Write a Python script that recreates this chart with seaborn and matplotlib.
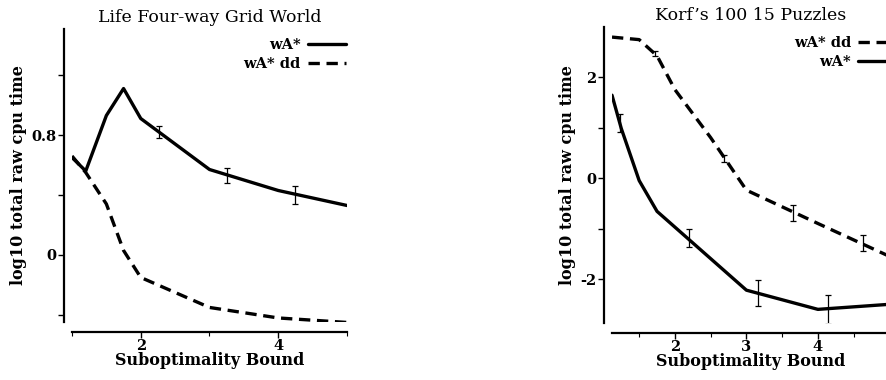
import matplotlib
matplotlib.use("Agg")
import matplotlib.pyplot as plt
import seaborn as sns
import pandas as pd
from matplotlib.lines import Line2D

# ---- Left panel: Life Four-way Grid World ----
grid_bound_wa = [1.0, 1.2, 1.5, 1.75, 2.0, 3.0, 4.0, 5.0]
grid_time_wa = [0.65, 0.56, 0.93, 1.11, 0.91, 0.57, 0.43, 0.33]
grid_bound_dd = [1.0, 1.2, 1.5, 1.75, 2.0, 3.0, 4.0, 5.0]
grid_time_dd = [0.66, 0.55, 0.34, 0.03, -0.15, -0.35, -0.42, -0.45]
grid_err_x = [2.27, 3.26, 4.25]
grid_err_y = [0.82, 0.53, 0.40]
grid_err_e = [0.04, 0.05, 0.06]

# ---- Right panel: Korf's 100 15 Puzzles ----
korf_bound_dd = [1.12, 1.5, 1.75, 2.0, 2.5, 3.0, 4.0, 5.0]
korf_time_dd = [2.79, 2.74, 2.42, 1.75, 0.8, -0.24, -0.9, -1.55]
korf_bound_wa = [1.12, 1.25, 1.5, 1.75, 3.0, 4.0, 5.0]
korf_time_wa = [1.64, 0.98, -0.05, -0.66, -2.22, -2.6, -2.5]
korf_err_dd_x = [1.72, 2.69, 3.65, 4.63]
korf_err_dd_y = [2.47, 0.38, -0.69, -1.29]
korf_err_dd_e = [0.05, 0.07, 0.16, 0.16]
korf_err_wa_x = [1.23, 2.2, 3.16, 4.14]
korf_err_wa_y = [1.09, -1.19, -2.28, -2.6]
korf_err_wa_e = [0.17, 0.18, 0.26, 0.29]

sns.set_theme(style="ticks")
plt.rcParams["font.family"] = ["DejaVu Serif"]
for k in ("axes.edgecolor", "xtick.color", "ytick.color", "text.color",
          "axes.labelcolor", "axes.titlecolor"):
    plt.rcParams[k] = "black"

fig = plt.figure(figsize=(8.87, 3.80), dpi=100)
axL = fig.add_axes([72/887, 58/380, 275/887, 293/380])
axR = fig.add_axes([612/887, 57/380, 277.4/887, 296/380])

LW = 2.4
DASH = (3.4, 2.0)
EB = dict(fmt="none", ecolor="black", elinewidth=0.9, capsize=2.5, capthick=0.9)
LEG = dict(loc="upper right", frameon=False, markerfirst=False, handlelength=2.6,
           handletextpad=0.5, labelspacing=0.35, borderaxespad=0.0, borderpad=0.1,
           prop={"weight": "bold", "size": 10.5})


def line(ax, xs, ys, dashed):
    sns.lineplot(data=pd.DataFrame({"bound": xs, "time": ys}), x="bound", y="time",
                 ax=ax, color="black", lw=LW, estimator=None, sort=False)
    if dashed:
        ax.lines[-1].set_dashes(DASH)


# left
line(axL, grid_bound_wa, grid_time_wa, False)
line(axL, grid_bound_dd, grid_time_dd, True)
axL.errorbar(grid_err_x, grid_err_y, yerr=grid_err_e, **EB)
axL.set_xlim(1.0, 5.0)
axL.set_ylim(-0.447, 1.507)
axL.set_xticks([2, 4])
axL.set_xticklabels(["2", "4"])
axL.set_xticks([1, 3, 5], minor=True)
axL.set_yticks([-0.4, 0, 0.4, 0.8, 1.2])
axL.set_yticklabels(["", "0", "", "0.8", ""])
axL.set_title("Life Four-way Grid World", fontsize=12.5, pad=5)
handlesL = [Line2D([], [], color="black", lw=LW),
            Line2D([], [], color="black", lw=LW, dashes=DASH)]
axL.legend(handlesL, ["wA*", "wA* dd"], bbox_to_anchor=(1.0, 0.975), **LEG)

# right
line(axR, korf_bound_dd, korf_time_dd, True)
line(axR, korf_bound_wa, korf_time_wa, False)
axR.errorbar(korf_err_dd_x, korf_err_dd_y, yerr=korf_err_dd_e, **EB)
axR.errorbar(korf_err_wa_x, korf_err_wa_y, yerr=korf_err_wa_e, **EB)
axR.set_xlim(1.12, 5.0)
axR.set_ylim(-2.87, 2.99)
axR.set_xticks([2, 3, 4, 5])
axR.set_xticklabels(["2", "3", "4", ""])
axR.set_xticks([1.5, 2.5, 3.5, 4.5], minor=True)
axR.set_yticks([-2, -1, 0, 1, 2])
axR.set_yticklabels(["-2", "", "0", "", "2"])
axR.set_title("Korf\u2019s 100 15 Puzzles", fontsize=12.5, pad=5)
handlesR = [Line2D([], [], color="black", lw=LW, dashes=DASH),
            Line2D([], [], color="black", lw=LW)]
axR.legend(handlesR, ["wA* dd", "wA*"], bbox_to_anchor=(1.03, 0.975), **LEG)

for ax in (axL, axR):
    ax.set_xlabel("Suboptimality Bound", fontsize=11.5, fontweight="bold", labelpad=-1)
    ax.set_ylabel("log10 total raw cpu time", fontsize=11.5, fontweight="bold", labelpad=3)
    sns.despine(ax=ax)
    ax.spines["left"].set_position(("outward", 6))
    ax.spines["bottom"].set_position(("outward", 7))
    ax.spines["left"].set_linewidth(1.6)
    ax.spines["bottom"].set_linewidth(1.6)
    ax.tick_params(axis="both", which="major", length=4, width=1.0, pad=1.5,
                   labelsize=10.5)
    ax.tick_params(axis="both", which="minor", length=3, width=0.8)
    for lab in ax.get_xticklabels() + ax.get_yticklabels():
        lab.set_fontweight("bold")
    ax.set_facecolor("white")

fig.savefig("out.png", dpi=100, facecolor="white")
